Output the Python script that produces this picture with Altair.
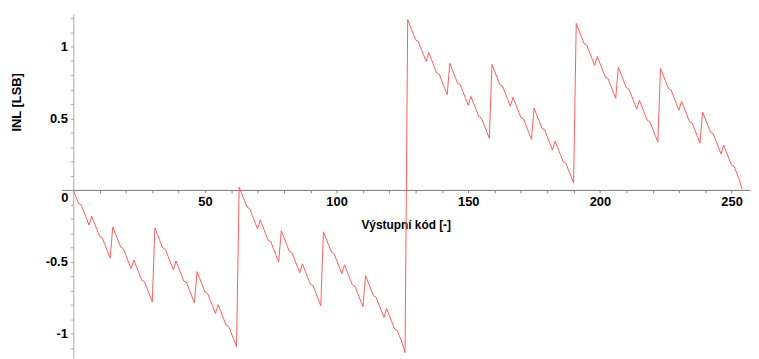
import altair as alt
import pandas as pd

# INL values, index 0..254
block0 = [0.000, -0.047, -0.094, -0.104, -0.151, -0.198, -0.245, -0.183,
          -0.230, -0.277, -0.324, -0.334, -0.381, -0.428, -0.475, -0.258,
          -0.305, -0.352, -0.399, -0.409, -0.456, -0.503, -0.550, -0.488,
          -0.535, -0.582, -0.629, -0.639, -0.686, -0.733, -0.780, -0.265,
          -0.312, -0.359, -0.406, -0.416, -0.463, -0.510, -0.557, -0.495,
          -0.542, -0.589, -0.636, -0.646, -0.693, -0.740, -0.787, -0.570,
          -0.617, -0.664, -0.711, -0.721, -0.768, -0.815, -0.862, -0.800,
          -0.847, -0.894, -0.941, -0.951, -0.998, -1.045, -1.092, 0.020]
block1 = [-0.027, -0.074, -0.121, -0.131, -0.178, -0.225, -0.272, -0.210,
          -0.257, -0.304, -0.351, -0.361, -0.408, -0.455, -0.502, -0.285,
          -0.332, -0.379, -0.426, -0.436, -0.483, -0.530, -0.577, -0.515,
          -0.562, -0.609, -0.656, -0.666, -0.713, -0.760, -0.807, -0.292,
          -0.339, -0.386, -0.433, -0.443, -0.490, -0.537, -0.584, -0.522,
          -0.569, -0.616, -0.663, -0.673, -0.720, -0.767, -0.814, -0.597,
          -0.644, -0.691, -0.738, -0.748, -0.795, -0.842, -0.889, -0.827,
          -0.874, -0.921, -0.968, -0.978, -1.025, -1.072, -1.134, 1.187]
block2 = [1.140, 1.093, 1.046, 1.036, 0.989, 0.942, 0.895, 0.957,
          0.910, 0.863, 0.816, 0.806, 0.759, 0.712, 0.665, 0.882,
          0.835, 0.788, 0.741, 0.731, 0.684, 0.637, 0.590, 0.652,
          0.605, 0.558, 0.511, 0.501, 0.454, 0.407, 0.360, 0.875,
          0.828, 0.781, 0.734, 0.724, 0.677, 0.630, 0.583, 0.645,
          0.598, 0.551, 0.504, 0.494, 0.447, 0.400, 0.353, 0.570,
          0.523, 0.476, 0.429, 0.419, 0.372, 0.325, 0.278, 0.340,
          0.293, 0.246, 0.199, 0.189, 0.142, 0.095, 0.048, 1.160]
block3 = [1.113, 1.066, 1.019, 1.009, 0.962, 0.915, 0.868, 0.930,
          0.883, 0.836, 0.789, 0.779, 0.732, 0.685, 0.638, 0.855,
          0.808, 0.761, 0.714, 0.704, 0.657, 0.610, 0.563, 0.625,
          0.578, 0.531, 0.484, 0.474, 0.427, 0.380, 0.333, 0.848,
          0.801, 0.754, 0.707, 0.697, 0.650, 0.603, 0.556, 0.618,
          0.571, 0.524, 0.477, 0.467, 0.420, 0.373, 0.326, 0.543,
          0.496, 0.449, 0.402, 0.392, 0.345, 0.298, 0.251, 0.313,
          0.266, 0.219, 0.172, 0.162, 0.115, 0.068, 0.005]

inl = block0 + block1 + block2 + block3
codes = list(range(len(inl)))

x_ticks = [10, 20, 30, 40, 50, 60, 70, 80, 90, 100, 110, 120, 130, 140, 150,
           160, 170, 180, 190, 200, 210, 220, 230, 240, 250]
y_ticks = [-1.1, -1.0, -0.9, -0.8, -0.7, -0.6, -0.5, -0.4, -0.3, -0.2, -0.1, 0.0,
           0.1, 0.2, 0.3, 0.4, 0.5, 0.6, 0.7, 0.8, 0.9, 1.0, 1.1, 1.2]

df = pd.DataFrame({"code": codes, "inl": inl})
zero_df = pd.DataFrame({"code": [0], "inl": [0.0], "t": ["0"]})

FONT = "Liberation Sans"
W, H = 696, 348
xdom = [-4.5, 257]
ydom = [-170 / 145, 178 / 145]

xs = alt.Scale(domain=xdom, nice=False, zero=False)
ys = alt.Scale(domain=ydom, nice=False, zero=False)

x_axis = alt.Axis(values=x_ticks, title="Výstupní kód [-]",
                  labelExpr="datum.value % 50 == 0 ? datum.label : ''",
                  labelOverlap=False, labelBound=False, labelFlush=False,
                  offset=-170, domainColor="#777777", tickColor="#888888",
                  tickSize=3, labelPadding=3, labelFont=FONT,
                  labelFontSize=13, labelFontWeight="bold",
                  labelColor="black", titleFont=FONT, titleFontSize=12,
                  titleFontWeight="bold", titleColor="black",
                  titleBaseline="alphabetic", titleY=39, grid=False)
y_axis = alt.Axis(values=y_ticks, title="INL [LSB]",
                  labelExpr="abs(datum.value) > 0.001 && abs(datum.value*2 - round(datum.value*2)) < 0.001 ? toString(round(datum.value*2)/2) : ''",
                  labelOverlap=False, labelBound=False, labelFlush=False,
                  offset=-12, domainColor="#aaaaaa", tickColor="#aaaaaa",
                  tickSize=3, labelPadding=3, labelFont=FONT,
                  labelFontSize=13, labelFontWeight="bold",
                  labelColor="black", titleFont=FONT, titleFontSize=13,
                  titleFontWeight="bold", titleColor="black",
                  titleBaseline="alphabetic", titleAngle=270,
                  titleX=-53, titleY=89, grid=False)

x_enc = alt.X("code:Q", scale=xs, axis=x_axis)
y_enc = alt.Y("inl:Q", scale=ys, axis=y_axis)

line = alt.Chart(df).mark_line(color="#ff5c5c", strokeWidth=1, clip=True).encode(
    x=x_enc, y=y_enc,
)

zero_lbl = alt.Chart(zero_df).mark_text(
    font=FONT, fontSize=13, fontWeight="bold", color="black",
    align="right", baseline="middle", dx=-5, dy=8
).encode(
    x=x_enc, y=y_enc,
    text="t:N",
)

chart = alt.layer(line, zero_lbl).properties(
    width=W, height=H,
    autosize="none",
    padding={"left": 54, "top": 4, "right": 1, "bottom": 0},
).configure(
    background="white",
    view=alt.ViewConfig(strokeWidth=0, strokeOpacity=0),
)

chart.save("out.html", embed_options={"renderer": "svg", "actions": False})
